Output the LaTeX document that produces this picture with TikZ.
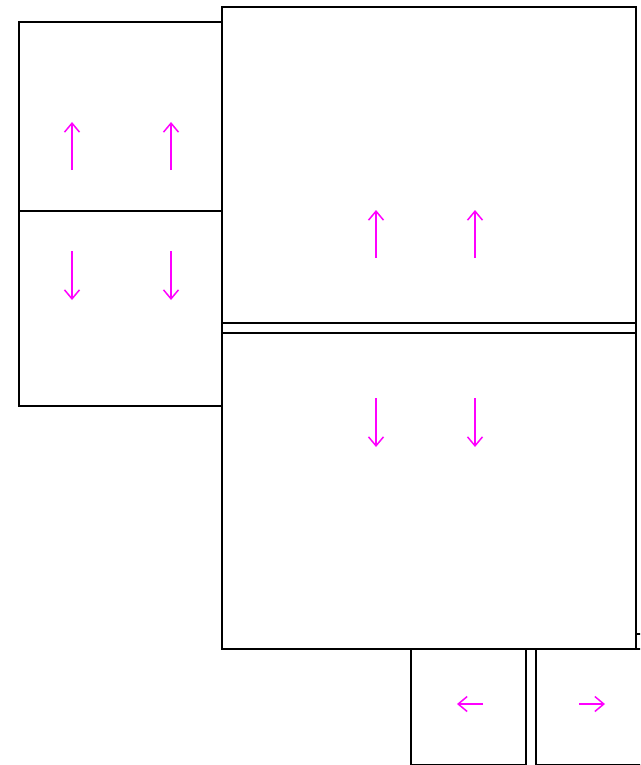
\documentclass[tikz,border=0pt]{standalone}
\usetikzlibrary{arrows.meta}
\definecolor{mag}{RGB}{255,0,255}
\begin{document}
\begin{tikzpicture}[x=1pt,y=-1pt,
  box/.style={draw=black,line width=1.5pt},
  flow/.style={draw=mag,line width=1.5pt,-{Straight Barb[length=9pt,width=15pt,line width=1.5pt]}}]
\useasboundingbox (0,0) rectangle (640,765);
\clip (0,0) rectangle (640,765);
% left box
\draw[box] (222,22) -- (19,22) -- (19,406) -- (222,406);
\draw[box] (19,211) -- (222,211);
% big box
\draw[box] (222,7) rectangle (636,649);
\draw[box] (222,323) -- (636,323);
\draw[box] (222,333) -- (636,333);
% tick
\draw[box] (636,634) -- (645,634);
% bottom boxes
\draw[box] (411,649) rectangle (526,765);
\draw[box] (536,649) rectangle (660,765);
% arrows
\draw[flow] (72,170) -- (72,122);
\draw[flow] (171,170) -- (171,122);
\draw[flow] (72,251) -- (72,300);
\draw[flow] (171,251) -- (171,300);
\draw[flow] (376,258) -- (376,210);
\draw[flow] (475,258) -- (475,210);
\draw[flow] (376,398) -- (376,447);
\draw[flow] (475,398) -- (475,447);
\draw[flow] (483,704) -- (457,704);
\draw[flow] (579,704) -- (605,704);
\end{tikzpicture}
\end{document}
